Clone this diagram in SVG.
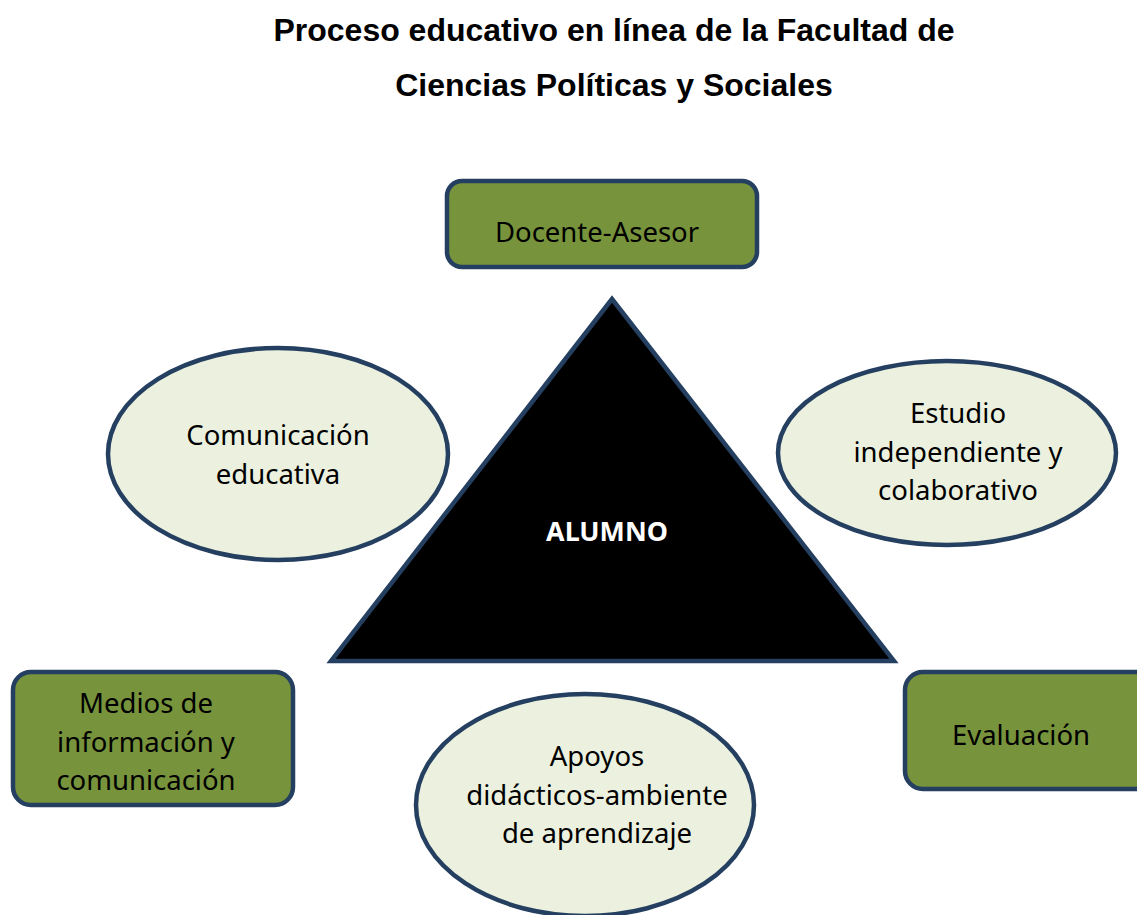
<svg xmlns="http://www.w3.org/2000/svg" width="1137" height="915" viewBox="0 0 1137 915">
<style>
.box{fill:#77933c;stroke:#243f60;stroke-width:4.5}
.ell{fill:#ebf1de;stroke:#243f60;stroke-width:4.5}
.t{font-family:"Noto Sans","Open Sans",sans-serif;font-size:27.5px;fill:#000;text-anchor:middle}
.title{font-family:"Liberation Sans",Arial,sans-serif;font-weight:bold;font-size:32px;fill:#000;text-anchor:middle}
</style>
<rect width="1137" height="915" fill="#fff"/>
<g id="title">
<text class="title" x="614" y="41">Proceso educativo en línea de la Facultad de</text>
<text class="title" x="614" y="96">Ciencias Políticas y Sociales</text>
</g>
<g id="connectors"></g>
<g id="docente">
<rect class="box" x="447" y="181" width="310" height="86" rx="15"/>
<text class="t" x="597" y="242">Docente-Asesor</text>
</g>
<g id="alumno">
<polygon points="612,299 331,661 894,661" fill="#000" stroke="#243f60" stroke-width="4.5" stroke-linejoin="miter"/>
<text x="607" y="541" font-family="Noto Sans,Open Sans,sans-serif" font-weight="bold" font-size="26.8" fill="#fff" text-anchor="middle">ALUMNO</text>
</g>
<g id="comunicacion">
<ellipse class="ell" cx="278" cy="454" rx="170" ry="106"/>
<text class="t" x="278" y="445">Comunicación</text>
<text class="t" x="278" y="484">educativa</text>
</g>
<g id="estudio">
<ellipse class="ell" cx="947" cy="453" rx="169" ry="92"/>
<text class="t" x="958" y="423">Estudio</text>
<text class="t" x="958" y="462">independiente y</text>
<text class="t" x="958" y="500">colaborativo</text>
</g>
<g id="medios">
<rect class="box" x="13" y="672" width="280" height="133" rx="18"/>
<text class="t" x="146" y="713">Medios de</text>
<text class="t" x="146" y="752">información y</text>
<text class="t" x="146" y="790">comunicación</text>
</g>
<g id="evaluacion">
<rect class="box" x="905" y="672" width="250" height="117" rx="18"/>
<text class="t" x="1021" y="745">Evaluación</text>
</g>
<g id="apoyos">
<ellipse class="ell" cx="585" cy="805" rx="169" ry="111"/>
<text class="t" x="597" y="766">Apoyos</text>
<text class="t" x="597" y="805">didácticos-ambiente</text>
<text class="t" x="597" y="843">de aprendizaje</text>
</g>
</svg>
